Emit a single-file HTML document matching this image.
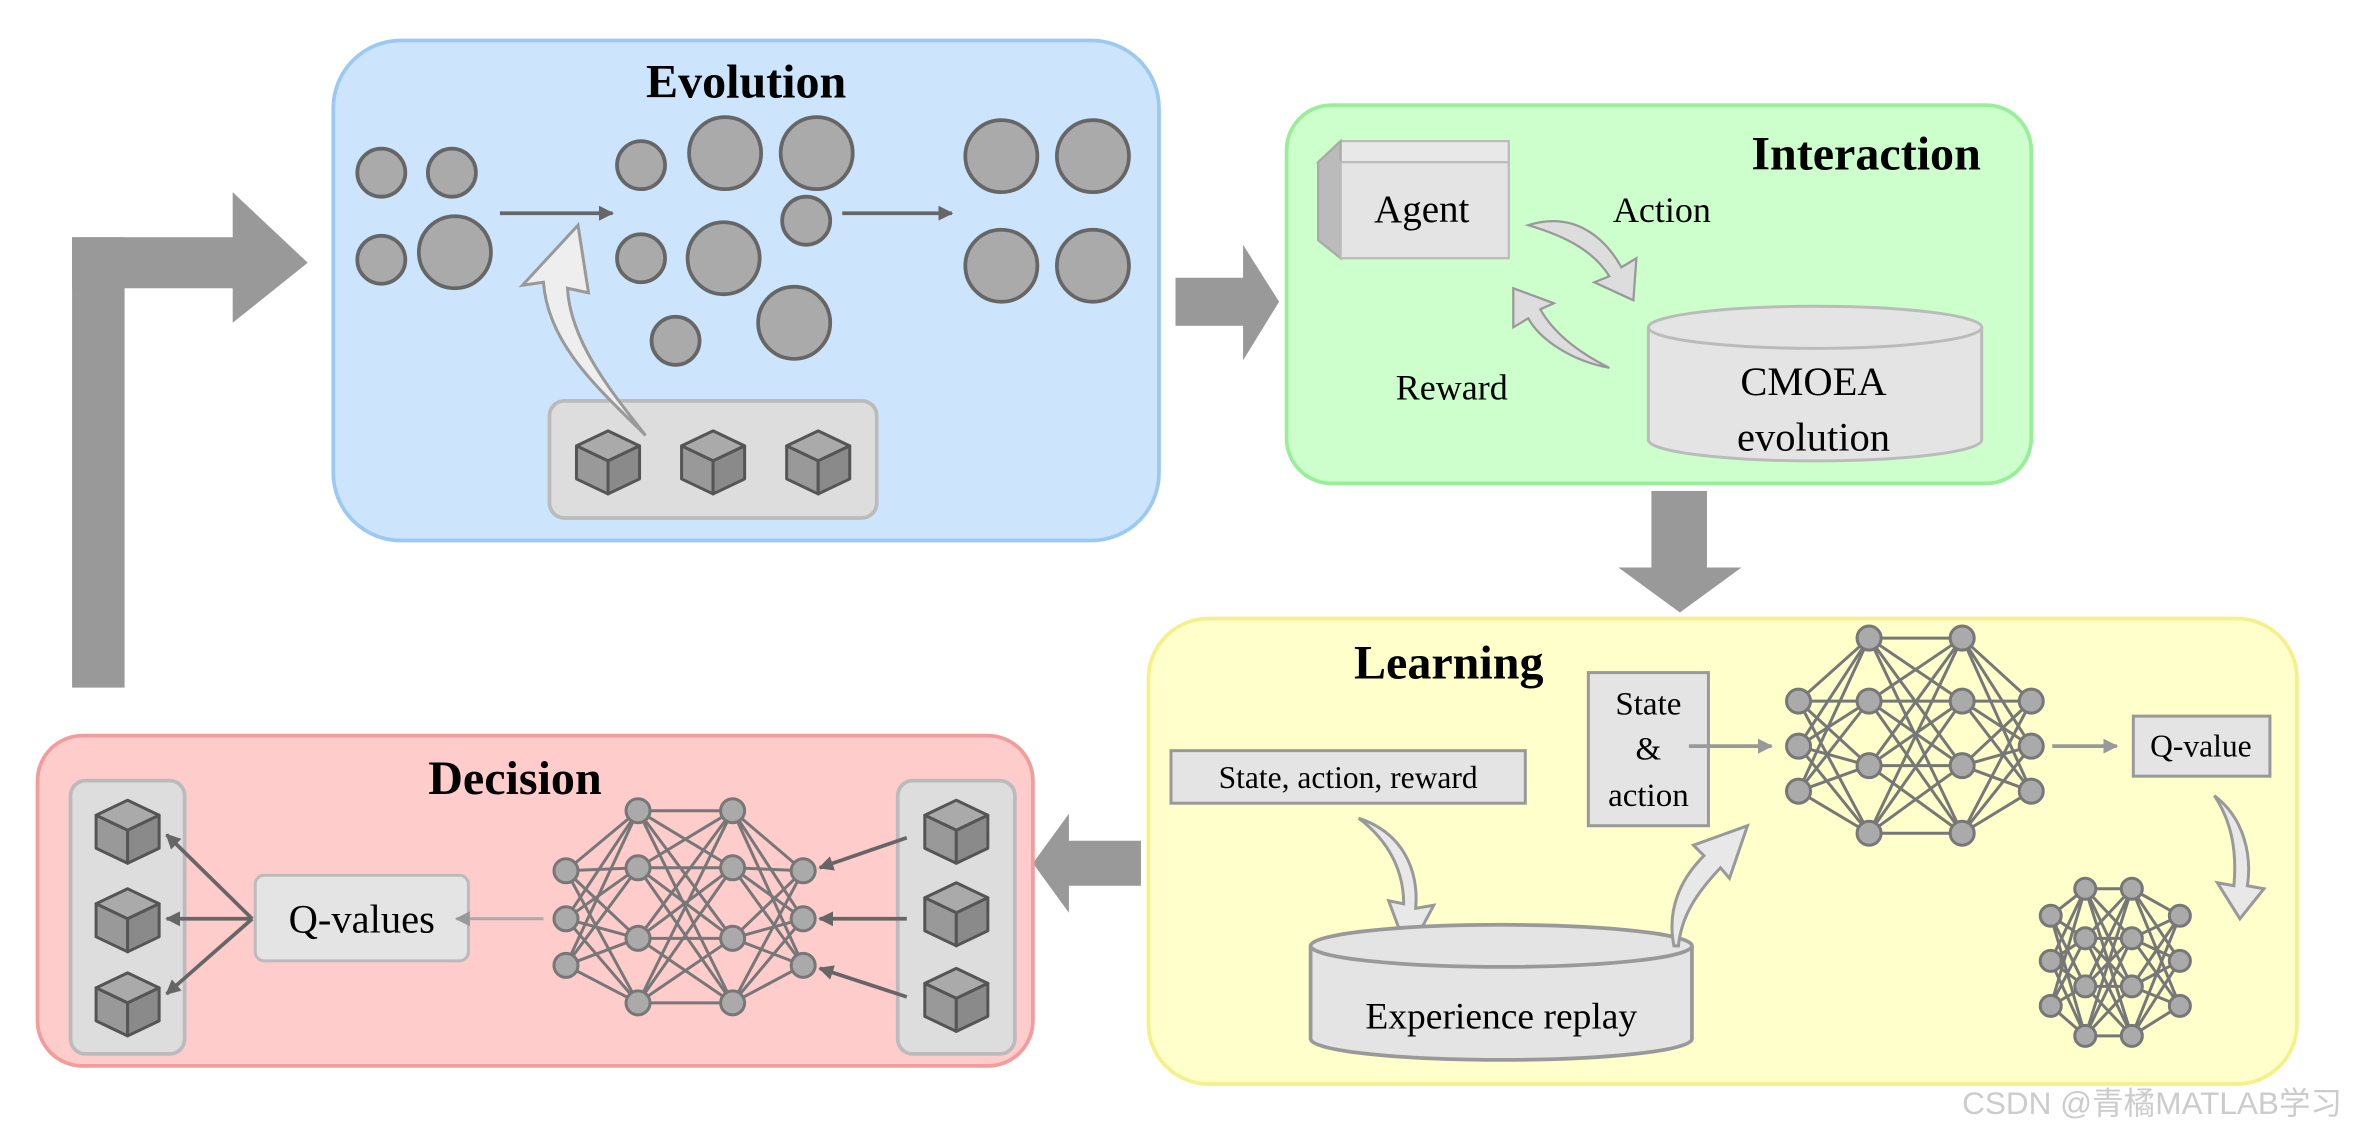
<!DOCTYPE html>
<html><head><meta charset="utf-8"><style>
html,body{margin:0;padding:0;background:#fff;width:2354px;height:1126px;overflow:hidden}
svg text{font-family:"Liberation Serif",serif;fill:#000}
</style></head><body>
<svg id="s" xmlns="http://www.w3.org/2000/svg" width="2354" height="1126" viewBox="0 0 1568 750">
<defs>
<marker id="ah" markerWidth="10" markerHeight="10" refX="9" refY="5" orient="auto" markerUnits="userSpaceOnUse"><path d="M0,0 L10,5 L0,10 z" fill="#666"/></marker>
<marker id="ah2" markerWidth="10" markerHeight="10" refX="9" refY="5" orient="auto" markerUnits="userSpaceOnUse"><path d="M0,0 L10,5 L0,10 z" fill="#999"/></marker>
<g id="cube"><polygon points="0,-20 21,-10 0,0 -21,-10" fill="#aaa" stroke="#555" stroke-width="2" stroke-linejoin="round"/><polygon points="-21,-10 0,0 0,22 -21,12" fill="#999" stroke="#555" stroke-width="2" stroke-linejoin="round"/><polygon points="0,0 21,-10 21,12 0,22" fill="#8a8a8a" stroke="#555" stroke-width="2" stroke-linejoin="round"/></g>
</defs>
<!-- big L arrow -->
<rect x="48" y="158" width="35" height="300" fill="#999"/>
<rect x="48" y="158" width="110" height="34" fill="#999"/>
<polygon points="155,128 205,175 155,215" fill="#999"/>
<!-- Evolution -->
<rect x="222" y="27" width="550" height="333" rx="45" fill="#cce5fc" stroke="#9cc9f3" stroke-width="2.5"/>
<text x="497" y="65" font-size="32" font-weight="bold" text-anchor="middle">Evolution</text>
<g fill="#aaa" stroke="#666" stroke-width="2.5">
<circle cx="254" cy="115" r="16"/><circle cx="301" cy="115" r="16"/><circle cx="254" cy="173" r="16"/><circle cx="303" cy="168" r="24"/>
<circle cx="427" cy="110" r="16"/><circle cx="483" cy="102" r="24"/><circle cx="544" cy="102" r="24"/><circle cx="537" cy="147" r="16"/><circle cx="427" cy="172" r="16"/><circle cx="482" cy="172" r="24"/><circle cx="450" cy="227" r="16"/><circle cx="529" cy="215" r="24"/>
<circle cx="667" cy="104" r="24"/><circle cx="728" cy="104" r="24"/><circle cx="667" cy="177" r="24"/><circle cx="728" cy="177" r="24"/>
</g>
<line x1="333" y1="142" x2="408" y2="142" stroke="#666" stroke-width="2.5" marker-end="url(#ah)"/>
<line x1="561" y1="142" x2="634" y2="142" stroke="#666" stroke-width="2.5" marker-end="url(#ah)"/>
<rect x="366" y="267" width="218" height="78" rx="10" fill="#ddd" stroke="#bbb" stroke-width="2.5"/>
<use href="#cube" x="405" y="307"/><use href="#cube" x="475" y="307"/><use href="#cube" x="545" y="307"/>
<path d="M430,290 C400,260 365,230 362,188 L348,190 L385,150 L392,195 L378,192 C380,228 408,262 430,290 z" fill="#eee" stroke="#999" stroke-width="2"/>
<!-- arrow to interaction -->
<rect x="783" y="185" width="46" height="32" fill="#999"/>
<polygon points="828,163 852,201 828,240" fill="#999"/>
<!-- Interaction -->
<rect x="857" y="70" width="496" height="252" rx="30" fill="#ccffcc" stroke="#99ee99" stroke-width="2.5"/>
<text x="1243" y="113" font-size="32" font-weight="bold" text-anchor="middle">Interaction</text>
<polygon points="878,108 893,94 1005,94 1005,108" fill="#e8e8e8" stroke="#bbb" stroke-width="1.5"/>
<polygon points="878,108 893,94 893,172 878,160" fill="#bbb" stroke="#aaa" stroke-width="1.5"/>
<rect x="893" y="108" width="112" height="64" fill="#e4e4e4" stroke="#bbb" stroke-width="1.5"/>
<text x="947" y="148" font-size="26" text-anchor="middle">Agent</text>
<text x="1107" y="148" font-size="24" text-anchor="middle">Action</text>
<text x="967" y="266" font-size="24" text-anchor="middle">Reward</text>
<path d="M1018,150 C1050,140 1070,160 1080,178 L1090,172 L1088,200 L1062,188 L1072,184 C1062,168 1045,158 1018,150 z" fill="#ddd" stroke="#999" stroke-width="1.5"/>
<path d="M1072,245 C1045,240 1025,225 1018,212 L1008,218 L1008,192 L1035,202 L1026,206 C1035,222 1052,235 1072,245 z" fill="#ddd" stroke="#999" stroke-width="1.5"/>
<path d="M1098,218 L1098,293 A111,14 0 0 0 1320,293 L1320,218" fill="#e4e4e4" stroke="#bbb" stroke-width="2"/>
<ellipse cx="1209" cy="218" rx="111" ry="14" fill="#e4e4e4" stroke="#bbb" stroke-width="2"/>
<text x="1208" y="263" font-size="27" text-anchor="middle">CMOEA</text>
<text x="1208" y="300" font-size="27" text-anchor="middle">evolution</text>
<!-- down arrow -->
<rect x="1100" y="327" width="37" height="52" fill="#999"/>
<polygon points="1078,378 1160,378 1119,408" fill="#999"/>
<!-- Learning -->
<rect x="765" y="412" width="765" height="310" rx="40" fill="#ffffcc" stroke="#f5f08a" stroke-width="2.5"/>
<text x="965" y="452" font-size="32" font-weight="bold" text-anchor="middle">Learning</text>
<rect x="780" y="500" width="236" height="35" fill="#e4e4e4" stroke="#999" stroke-width="2"/>
<text x="898" y="525" font-size="21" text-anchor="middle">State, action, reward</text>
<path d="M905,545 C935,555 945,580 943,605 L955,603 L938,635 L925,600 L935,602 C935,580 925,560 905,545 z" fill="#e8e8e8" stroke="#999" stroke-width="2"/>
<path d="M873,630 L873,692 A127,14 0 0 0 1127,692 L1127,630" fill="#e4e4e4" stroke="#999" stroke-width="2.5"/>
<ellipse cx="1000" cy="630" rx="127" ry="14" fill="#e4e4e4" stroke="#999" stroke-width="2.5"/>
<text x="1000" y="685" font-size="25" text-anchor="middle">Experience replay</text>
<path d="M1115,630 C1110,605 1120,585 1135,570 L1128,563 L1164,550 L1152,585 L1146,578 C1130,595 1120,610 1118,630 z" fill="#e8e8e8" stroke="#999" stroke-width="2"/>
<rect x="1058" y="448" width="80" height="102" fill="#e4e4e4" stroke="#999" stroke-width="2"/>
<text x="1098" y="476" font-size="22" text-anchor="middle">State</text>
<text x="1098" y="506" font-size="22" text-anchor="middle">&amp;</text>
<text x="1098" y="537" font-size="22" text-anchor="middle">action</text>
<line x1="1125" y1="497" x2="1180" y2="497" stroke="#999" stroke-width="2.5" marker-end="url(#ah2)"/>
<line x1="1367" y1="497" x2="1410" y2="497" stroke="#999" stroke-width="2.5" marker-end="url(#ah2)"/>
<rect x="1421" y="477" width="91" height="40" fill="#e4e4e4" stroke="#999" stroke-width="2"/>
<text x="1466" y="504" font-size="21" text-anchor="middle">Q-value</text>
<path d="M1475,530 C1495,545 1500,570 1497,590 L1508,592 L1492,612 L1477,588 L1488,590 C1490,568 1487,548 1475,530 z" fill="#e8e8e8" stroke="#999" stroke-width="2"/>
<!-- left arrow -->
<rect x="710" y="560" width="50" height="30" fill="#999"/>
<polygon points="712,542 688,575 712,608" fill="#999"/>
<!-- Decision -->
<rect x="25" y="490" width="663" height="220" rx="30" fill="#ffcccc" stroke="#f29c9c" stroke-width="2.5"/>
<text x="343" y="529" font-size="32" font-weight="bold" text-anchor="middle">Decision</text>
<rect x="47" y="520" width="76" height="182" rx="10" fill="#ddd" stroke="#bbb" stroke-width="2.5"/>
<use href="#cube" x="85" y="553"/><use href="#cube" x="85" y="612"/><use href="#cube" x="85" y="668"/>
<rect x="598" y="520" width="78" height="182" rx="10" fill="#ddd" stroke="#bbb" stroke-width="2.5"/>
<use href="#cube" x="637" y="553"/><use href="#cube" x="637" y="608"/><use href="#cube" x="637" y="665"/>
<rect x="170" y="583" width="142" height="57" rx="6" fill="#e4e4e4" stroke="#bbb" stroke-width="2"/>
<text x="241" y="621" font-size="27" text-anchor="middle">Q-values</text>
<g stroke="#666" stroke-width="2.5" marker-end="url(#ah)">
<line x1="168" y1="612" x2="111" y2="556"/><line x1="168" y1="612" x2="111" y2="612"/><line x1="168" y1="612" x2="111" y2="662"/>
<line x1="604" y1="558" x2="546" y2="578"/><line x1="604" y1="612" x2="546" y2="612"/><line x1="604" y1="664" x2="546" y2="645"/>
</g>
<line x1="362" y1="612" x2="304" y2="612" stroke="#aaa" stroke-width="2" marker-end="url(#ah2)"/>
<g id="nets"></g>
<text x="1560" y="742" font-size="21" text-anchor="end" fill="#ccc" style="font-family:'Liberation Sans','Noto Sans CJK SC',sans-serif;fill:#ccc">CSDN @青橘MATLAB学习</text>
</svg>
<script>
var g=document.getElementById('nets');
function net(L,r,sw){var s='';for(var i=0;i<L.length-1;i++){var a=L[i],b=L[i+1];a.ys.forEach(function(y1){b.ys.forEach(function(y2){s+='<line x1="'+a.x+'" y1="'+y1+'" x2="'+b.x+'" y2="'+y2+'" stroke="#777" stroke-width="'+sw+'"/>';});});}
L.forEach(function(l){l.ys.forEach(function(y){s+='<circle cx="'+l.x+'" cy="'+y+'" r="'+r+'" fill="#aaa" stroke="#777" stroke-width="2"/>';});});return s;}
var h='';
h+=net([{x:1198,ys:[467,497,527]},{x:1245,ys:[425,467,510,555]},{x:1307,ys:[425,467,510,555]},{x:1353,ys:[467,497,527]}],8,2);
h+=net([{x:1366,ys:[610,640,670]},{x:1389,ys:[592,625,657,690]},{x:1420,ys:[592,625,657,690]},{x:1452,ys:[610,640,670]}],7,2);
h+=net([{x:377,ys:[580,612,643]},{x:425,ys:[540,578,625,668]},{x:488,ys:[540,578,625,668]},{x:535,ys:[580,612,643]}],8,2);
g.innerHTML=h;
</script>
</body></html>
